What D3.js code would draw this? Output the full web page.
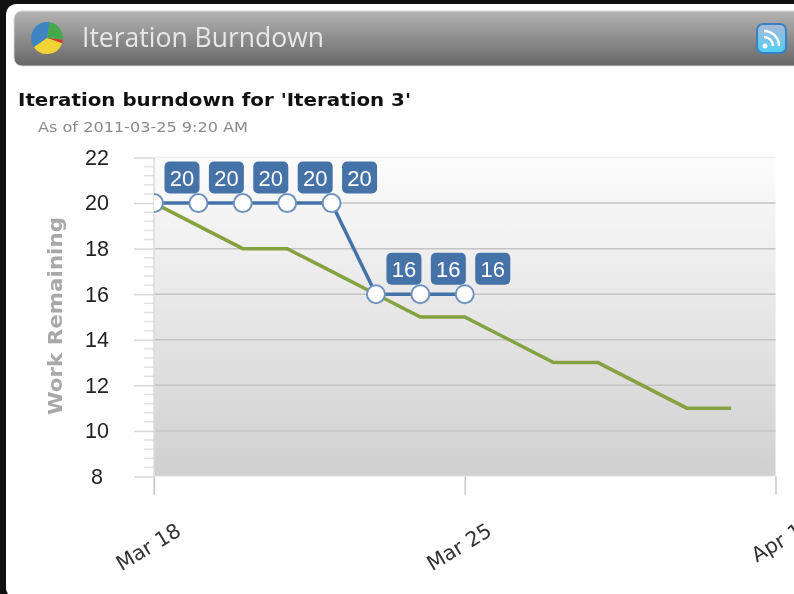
<!DOCTYPE html>
<html>
<head>
<meta charset="utf-8">
<script src="https://cdn.jsdelivr.net/npm/d3@7"></script>
<style>
html, body { margin: 0; padding: 0; background: #fff; overflow: hidden; }
text { font-family: "DejaVu Sans", sans-serif; }
svg { filter: blur(0.5px); }
</style>
</head>
<body>
<div class="canva"></div>
<script>
// values
const actualDates = ["2011-03-18", "2011-03-19", "2011-03-20", "2011-03-21", "2011-03-22", "2011-03-23", "2011-03-24", "2011-03-25"];
const actualValues = [20, 20, 20, 20, 20, 16, 16, 16];
const idealDates = ["2011-03-18", "2011-03-19", "2011-03-20", "2011-03-21", "2011-03-22", "2011-03-23", "2011-03-24", "2011-03-25", "2011-03-26", "2011-03-27", "2011-03-28", "2011-03-29", "2011-03-30", "2011-03-31"];
const idealValues = [20, 19, 18, 18, 17, 16, 15, 15, 14, 13, 13, 12, 11, 11];
const yTicks = [8, 10, 12, 14, 16, 18, 20, 22];
const xTicks = ["2011-03-18", "2011-03-25", "2011-04-01"];
const xTickLabels = ["Mar 18", "Mar 25", "Apr 1"];

const parseDate = d3.utcParse("%Y-%m-%d");

const svg = d3.select(".canva").append("svg")
    .attr("width", 794)
    .attr("height", 594)
    .style("display", "block");

const defs = svg.append("defs");

const headGrad = defs.append("linearGradient").attr("id", "headGrad").attr("x2", 0).attr("y2", 1);
headGrad.append("stop").attr("offset", "0").attr("stop-color", "#b4b4b4");
headGrad.append("stop").attr("offset", "1").attr("stop-color", "#666666");

const plotGrad = defs.append("linearGradient").attr("id", "plotGrad").attr("x2", 0).attr("y2", 1);
plotGrad.append("stop").attr("offset", "0").attr("stop-color", "#fcfcfc");
plotGrad.append("stop").attr("offset", "1").attr("stop-color", "#d0d0d0");

const rssGrad = defs.append("linearGradient").attr("id", "rssGrad").attr("x2", 0).attr("y2", 1);
rssGrad.append("stop").attr("offset", "0").attr("stop-color", "#a9b9d6");
rssGrad.append("stop").attr("offset", "1").attr("stop-color", "#4fd0f5");

defs.append("clipPath").attr("id", "plotClip").append("rect")
    .attr("x", 154).attr("y", 140).attr("width", 640).attr("height", 340);

// window frame
svg.append("rect").attr("width", 794).attr("height", 594).attr("fill", "#111");
svg.append("rect").attr("x", 6).attr("y", 4).attr("width", 800).attr("height", 594)
    .attr("rx", 10).attr("fill", "#fff");

// header bar
svg.append("rect").attr("x", 14).attr("y", 11).attr("width", 790).attr("height", 55)
    .attr("rx", 8).attr("fill", "url(#headGrad)").attr("stroke", "#d8d8d8");

// pie icon
const pieData = [
    {v: 37.5, c: "#3f84c4"},
    {v: 24, c: "#45a84a"},
    {v: 3.5, c: "#d9362b"},
    {v: 35, c: "#f2d335"}
];
const pieGen = d3.pie().value(d => d.v).sort(null).startAngle(-2.18).endAngle(-2.18 + 2 * Math.PI);
const arcGen = d3.arc().innerRadius(0).outerRadius(16);
svg.append("g").attr("transform", "translate(47,38)")
    .selectAll("path").data(pieGen(pieData)).enter().append("path")
    .attr("d", arcGen)
    .attr("fill", d => d.data.c);

svg.append("text").attr("x", 82).attr("y", 47)
    .attr("font-size", 27).attr("fill", "#e8e8e8")
    .attr("textLength", 242)
    .attr("lengthAdjust", "spacingAndGlyphs")
    .style("font-family", "'Open Sans', sans-serif")
    .text("Iteration Burndown");

// rss icon
const rss = svg.append("g").attr("transform", "translate(757,24)");
rss.append("rect").attr("width", 29).attr("height", 29).attr("rx", 6)
    .attr("fill", "url(#rssGrad)").attr("stroke", "#3a7fc4").attr("stroke-width", 2);
rss.append("circle").attr("cx", 8).attr("cy", 22).attr("r", 2.5).attr("fill", "#fff");
rss.selectAll("path").data([9, 15]).enter().append("path")
    .attr("d", r => d3.arc()({innerRadius: r - 1.2, outerRadius: r + 1.2, startAngle: 0, endAngle: Math.PI / 2}))
    .attr("transform", "translate(7,22)")
    .attr("fill", "#fff");

// titles
svg.append("text").attr("x", 18).attr("y", 106)
    .attr("font-size", 18.5).attr("font-weight", "bold").attr("fill", "#111")
    .attr("textLength", 393)
    .attr("lengthAdjust", "spacingAndGlyphs")
    .text("Iteration burndown for 'Iteration 3'");
svg.append("text").attr("x", 38).attr("y", 132)
    .attr("font-size", 14.5).attr("fill", "#8a8a8a")
    .attr("textLength", 210)
    .attr("lengthAdjust", "spacingAndGlyphs")
    .text("As of 2011-03-25 9:20 AM");

// scales
const x = d3.scaleUtc()
    .domain([parseDate("2011-03-18"), parseDate("2011-04-01")])
    .range([154, 775.5]);
const y = d3.scaleLinear()
    .domain([8, 22])
    .range([476.5, 157.5]);

// plot background
svg.append("rect")
    .attr("x", x.range()[0]).attr("y", y(22))
    .attr("width", x.range()[1] - x.range()[0]).attr("height", y(8) - y(22))
    .attr("fill", "url(#plotGrad)");

// grid lines
svg.append("g").selectAll("line").data(yTicks).enter().append("line")
    .attr("x1", x.range()[0]).attr("x2", x.range()[1])
    .attr("y1", d => y(d)).attr("y2", d => y(d))
    .attr("stroke", d => d == 8 || d == 22 ? "#eeeeee" : "#c4c4c4")
    .attr("stroke-width", 1.5);

// y axis
const yAxis = d3.axisLeft(y).tickValues(yTicks).tickSize(20);
const yG = svg.append("g").attr("transform", `translate(${x.range()[0]},0)`).call(yAxis);
yG.select(".domain").remove();
yG.selectAll("line").attr("stroke", "#d8d8d8").attr("stroke-width", 1.5);
yG.selectAll("text").attr("font-size", 21.5).attr("fill", "#222")
    .attr("text-anchor", "middle").attr("x", -57)
    .style("font-family", "'Liberation Sans', sans-serif");

// minor ticks
const minorTicks = d3.range(8, 22.01, 0.4).filter(d => Math.abs(d / 2 - Math.round(d / 2)) > 0.01);
svg.append("g").selectAll("line").data(minorTicks).enter().append("line")
    .attr("x1", x.range()[0] - 10).attr("x2", x.range()[0])
    .attr("y1", d => y(d)).attr("y2", d => y(d))
    .attr("stroke", "#e2e2e2").attr("stroke-width", 1.5);
svg.append("line")
    .attr("x1", x.range()[0]).attr("x2", x.range()[0])
    .attr("y1", y(22)).attr("y2", y(8) + 18)
    .attr("stroke", "#dcdcdc").attr("stroke-width", 1.5);

// x axis
const xAxis = d3.axisBottom(x)
    .tickValues(xTicks.map(parseDate))
    .tickSize(18)
    .tickFormat((d, i) => xTickLabels[i]);
const xG = svg.append("g").attr("transform", `translate(0,${y(8)})`).call(xAxis);
xG.select(".domain").remove();
xG.selectAll("line").attr("stroke", "#c8c8c8").attr("stroke-width", 1.5);
xG.selectAll("text")
    .attr("font-size", 20.5).attr("fill", "#333")
    .attr("text-anchor", "end")
    .attr("transform", "translate(28,58) rotate(-31)")
    .attr("x", 0).attr("y", 0).attr("dy", 0);

// y axis title
svg.append("text")
    .attr("transform", "translate(62,316) rotate(-90)")
    .attr("text-anchor", "middle")
    .attr("font-size", 20).attr("font-weight", "bold").attr("fill", "#a8a8a8")
    .attr("textLength", 198)
    .attr("lengthAdjust", "spacingAndGlyphs")
    .text("Work Remaining");

const lineGen = d3.line().x(d => x(d.date)).y(d => y(d.value));
const idealData = idealDates.map((d, i) => ({date: parseDate(d), value: idealValues[i]}));
const actualData = actualDates.map((d, i) => ({date: parseDate(d), value: actualValues[i]}));

const plot = svg.append("g").attr("clip-path", "url(#plotClip)");

plot.append("path").datum(idealData)
    .attr("d", lineGen)
    .attr("fill", "none").attr("stroke", "#84a23f").attr("stroke-width", 3.5);

plot.append("path").datum(actualData)
    .attr("d", lineGen)
    .attr("fill", "none").attr("stroke", "#4572a7").attr("stroke-width", 3.5);

plot.selectAll("circle").data(actualData).enter().append("circle")
    .attr("cx", d => x(d.date)).attr("cy", d => y(d.value))
    .attr("r", 9)
    .attr("fill", "#fff").attr("stroke", "#6f93bd").attr("stroke-width", 2);

// value labels
const labels = svg.append("g").selectAll("g").data(actualData).enter().append("g")
    .attr("transform", d => `translate(${x(d.date) + 28},${y(d.value) - 25.5})`);
labels.append("rect")
    .attr("x", -17.5).attr("y", -16).attr("width", 35).attr("height", 32)
    .attr("rx", 5).attr("fill", "#4572a7");
labels.append("text")
    .attr("text-anchor", "middle").attr("dy", 8)
    .attr("font-size", 22).attr("fill", "#fff")
    .style("font-family", "'Liberation Sans', sans-serif")
    .text(d => d.value);
</script>
</body>
</html>
